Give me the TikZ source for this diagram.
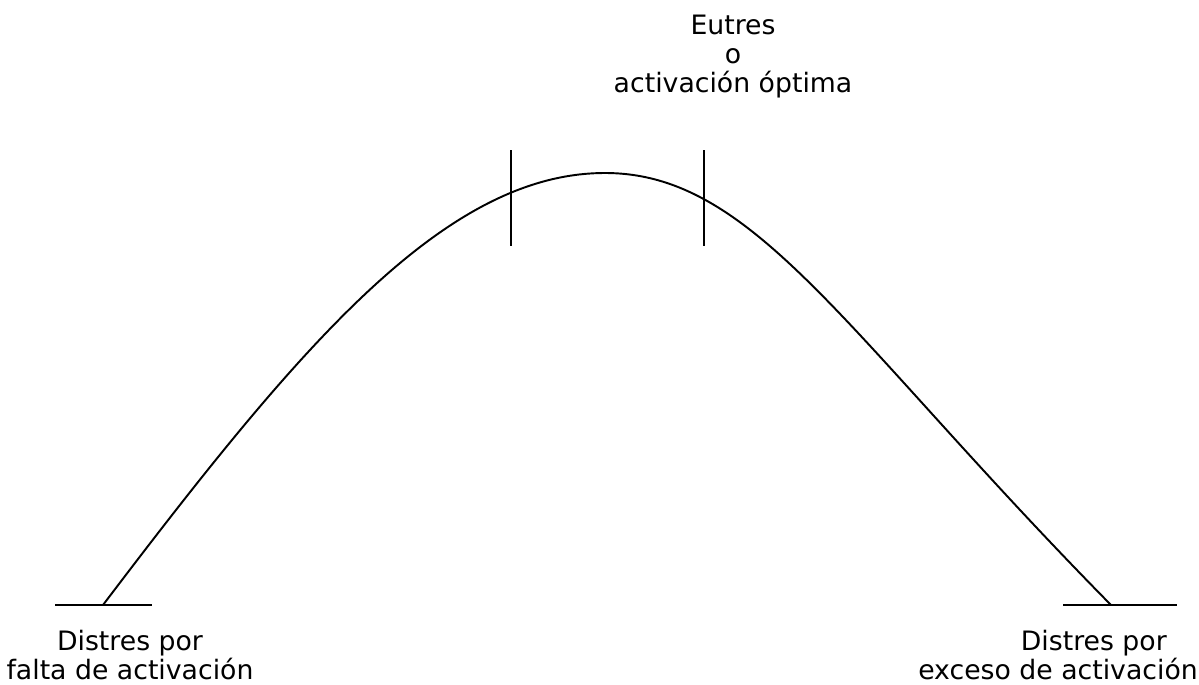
\documentclass[tikz,border=0pt]{standalone}
\usepackage{fontspec}
\setmainfont{DejaVu Sans}
\begin{document}
\begin{tikzpicture}[
  x=0.02cm,y=-0.02cm,
  font=\fontsize{15.2pt}{16.5pt}\selectfont,
  etiqueta/.style={align=center,inner sep=0pt,anchor=north},
  linea/.style={line width=1.1pt,draw=black,line cap=butt}
]
\useasboundingbox (0,0) rectangle (1199,684);
% Activation curve: lack -> optimum -> excess, with two bars around the top.
\coordinate (inicio) at (103,605);
\coordinate (cima) at (605,173);
\coordinate (fin) at (1111,605);
\coordinate (baseIzqA) at (55,605);
\coordinate (baseIzqB) at (152,605);
\coordinate (baseDerA) at (1063,605);
\coordinate (baseDerB) at (1177,605);
\coordinate (barraIzqA) at (511,150);
\coordinate (barraIzqB) at (511,246);
\coordinate (barraDerA) at (704,150);
\coordinate (barraDerB) at (704,246);
\draw[linea] (inicio) .. controls (300,345) and (445,173) .. (cima)
  .. controls (755,173) and (845,335) .. (fin);
\draw[linea] (baseIzqA) -- (baseIzqB);
\draw[linea] (baseDerA) -- (baseDerB);
\draw[linea] (barraIzqA) -- (barraIzqB);
\draw[linea] (barraDerA) -- (barraDerB);
\node[etiqueta] (eutres) at (733,15) {Eutres\\o\\activación óptima};
\node[etiqueta] (falta) at (130,630) {Distres por\\falta de activación};
\node[etiqueta] (exceso) at (1058,630) {\hspace*{40.8pt}Distres por\\exceso de activación};
\end{tikzpicture}
\end{document}
